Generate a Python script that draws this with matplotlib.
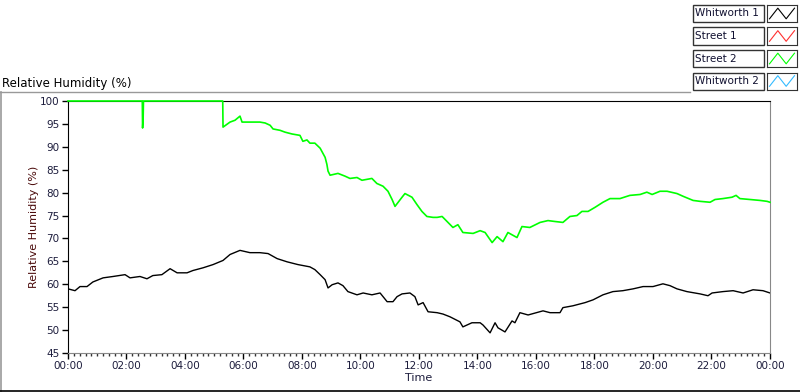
import matplotlib.pyplot as plt
from matplotlib.lines import Line2D
from matplotlib.patches import Rectangle

# hours since midnight, relative humidity (%)
whitworth1_t = [0, 0.24, 0.41, 0.65, 0.85, 1.2, 1.54, 1.95, 2.12, 2.46, 2.7, 2.9, 3.21, 3.49, 3.73,
                4.07, 4.27, 4.62, 4.96, 5.3, 5.54, 5.88, 6.22, 6.56, 6.84, 7.15, 7.49, 7.86, 8.27, 8.44,
                8.62, 8.79, 8.89, 9.03, 9.23, 9.40, 9.57, 9.88, 10.09, 10.39, 10.67, 10.91, 11.11, 11.25, 11.42,
                11.69, 11.86, 11.97, 12.14, 12.31, 12.62, 12.82, 13.06, 13.40, 13.50, 13.81, 14.09, 14.19, 14.43, 14.60,
                14.70, 14.94, 15.18, 15.28, 15.45, 15.73, 16.24, 16.48, 16.82, 16.92, 17.26, 17.68, 17.95, 18.29, 18.63,
                18.97, 19.32, 19.66, 20.0, 20.34, 20.58, 20.82, 21.16, 21.61, 21.88, 22.02, 22.39, 22.74, 23.08, 23.42,
                23.76, 24]
whitworth1_v = [59.0, 58.6, 59.5, 59.5, 60.5, 61.4, 61.7, 62.1, 61.4, 61.7, 61.2, 61.9, 62.1, 63.4, 62.5,
                62.5, 63.0, 63.6, 64.3, 65.2, 66.5, 67.4, 66.9, 66.9, 66.7, 65.6, 64.9, 64.3, 63.8, 63.2,
                62.1, 61.0, 59.2, 59.9, 60.3, 59.7, 58.4, 57.7, 58.1, 57.7, 58.1, 56.2, 56.2, 57.3, 57.9,
                58.1, 57.3, 55.5, 56.0, 54.0, 53.8, 53.5, 52.9, 51.8, 50.7, 51.6, 51.6, 51.1, 49.4, 51.6,
                50.5, 49.6, 52.0, 51.6, 53.8, 53.3, 54.2, 53.8, 53.8, 54.9, 55.3, 56.0, 56.6, 57.7, 58.4,
                58.6, 59.0, 59.5, 59.5, 60.1, 59.7, 59.0, 58.4, 57.9, 57.5, 58.1, 58.4, 58.6, 58.1, 58.8,
                58.6, 58.1]

street2_t = [0, 2.54, 2.55, 2.57, 2.58, 5.29, 5.30, 5.54, 5.71, 5.88, 5.95, 6.22, 6.56, 6.74, 6.91,
             7.01, 7.25, 7.42, 7.66, 7.93, 8.03, 8.17, 8.27, 8.44, 8.62, 8.79, 8.85, 8.89, 8.96, 9.23,
             9.47, 9.64, 9.88, 10.05, 10.39, 10.56, 10.77, 10.94, 11.08, 11.18, 11.42, 11.52, 11.76, 11.93, 12.1,
             12.27, 12.48, 12.62, 12.79, 12.96, 13.16, 13.33, 13.50, 13.85, 14.09, 14.26, 14.50, 14.67, 14.87, 15.04,
             15.35, 15.52, 15.79, 16.14, 16.41, 16.65, 16.92, 17.16, 17.40, 17.57, 17.78, 18.02, 18.29, 18.53, 18.87,
             19.21, 19.56, 19.79, 19.97, 20.24, 20.48, 20.82, 21.03, 21.37, 21.61, 21.95, 22.12, 22.39, 22.70, 22.84,
             22.97, 23.32, 23.66, 23.90, 24]
street2_v = [100, 100, 94.1, 96.5, 100, 100, 94.3, 95.4, 95.8, 96.7, 95.4, 95.4, 95.4, 95.2, 94.7,
             93.9, 93.6, 93.2, 92.8, 92.5, 91.2, 91.5, 90.8, 90.8, 89.7, 87.7, 86.2, 84.7, 83.8, 84.2,
             83.6, 83.1, 83.3, 82.7, 83.1, 82.0, 81.4, 80.3, 78.5, 77.0, 79.0, 79.8, 79.0, 77.4, 75.9,
             74.8, 74.6, 74.6, 74.8, 73.7, 72.4, 73.0, 71.3, 71.1, 71.7, 71.3, 69.1, 70.4, 69.3, 71.3,
             70.2, 72.6, 72.4, 73.5, 73.9, 73.7, 73.5, 74.8, 75.0, 75.9, 75.9, 76.8, 77.9, 78.7, 78.7,
             79.4, 79.6, 80.1, 79.6, 80.3, 80.3, 79.8, 79.2, 78.3, 78.1, 77.9, 78.5, 78.7, 79.0, 79.4,
             78.7, 78.5, 78.3, 78.1, 77.9]

legend_names = ['Whitworth 1', 'Street 1', 'Street 2', 'Whitworth 2']
legend_colors = ['#000000', '#ff3030', '#00ff00', '#33bbff']

x_ticks = list(range(0, 25, 2))
x_labels = ['%02d:00' % (h % 24) for h in x_ticks]
y_ticks = list(range(45, 101, 5))

W, H = 800, 392
fig = plt.figure(figsize=(8, 3.92), dpi=100)
plt.rcParams['font.family'] = 'DejaVu Sans'

tick_col = '#1c1c3c'

ax = fig.add_axes([68 / W, 1 - 353 / H, 702 / W, 252 / H])
ax.plot(whitworth1_t, whitworth1_v, color=legend_colors[0], lw=1.0)
ax.plot(street2_t, street2_v, color=legend_colors[2], lw=1.2, clip_on=False, zorder=5)
ax.set_xlim(0, 24)
ax.set_ylim(45, 100)
ax.set_xticks(x_ticks)
ax.set_xticklabels(x_labels)
ax.set_xticks([i * 0.2 for i in range(121)], minor=True)
ax.set_yticks(y_ticks)
ax.tick_params(axis='both', which='major', length=4, width=1, colors='black',
               labelcolor=tick_col, labelsize=7.5, pad=2)
ax.tick_params(axis='x', which='minor', length=2.5, width=1, colors='#333333')
for s in ['top', 'left']:
    ax.spines[s].set_color('black')
for s in ['bottom', 'right']:
    ax.spines[s].set_color('#888888')
ax.set_xlabel('Time', fontsize=8, color=tick_col, labelpad=1)
ax.set_ylabel('Relative Humidity (%)', fontsize=8, color='#4a0a0a', labelpad=1)

# panel frame and caption
fig.add_artist(Line2D([0, 690 / W], [1 - 92 / H, 1 - 92 / H], color='#999999', lw=1))
fig.add_artist(Line2D([0.6 / W, 0.6 / W], [0, 1 - 92 / H], color='#999999', lw=1.2))
fig.add_artist(Line2D([0, 1], [0.6 / H, 0.6 / H], color='black', lw=1.2))
fig.text(2 / W, 1 - 84 / H, 'Relative Humidity (%)', fontsize=8.5, va='center', ha='left')

# legend
for i, (name, col) in enumerate(zip(legend_names, legend_colors)):
    top = 5 + 22.5 * i
    fig.add_artist(Rectangle((693 / W, 1 - (top + 17) / H), 71 / W, 17 / H,
                             transform=fig.transFigure, facecolor='white',
                             edgecolor='#333333', lw=1))
    fig.text(695 / W, 1 - (top + 8.5) / H, name, fontsize=7.5, va='center',
             ha='left', color='#101030')
    sw = fig.add_axes([767 / W, 1 - (top + 17) / H, 30 / W, 17 / H])
    sw.plot([0, 1, 2, 3], [0, 1, 0, 1], color=col, lw=0.8)
    sw.set_xlim(-0.3, 3.3)
    sw.set_ylim(-0.3, 1.3)
    sw.set_xticks([])
    sw.set_yticks([])
    for s in sw.spines.values():
        s.set_color('#333333')

fig.savefig('out.png', dpi=100)
